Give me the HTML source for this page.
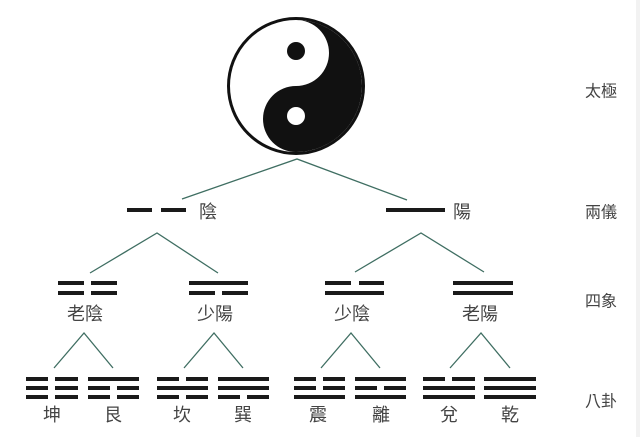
<!DOCTYPE html>
<html><head><meta charset="utf-8"><style>
html,body{margin:0;padding:0;background:#fff;}
svg{display:block;}
text{font-family:"Liberation Sans","Noto Sans CJK TC",sans-serif;fill:#444;}
</style></head><body>
<svg width="640" height="437" viewBox="0 0 640 437" xmlns="http://www.w3.org/2000/svg">
<rect x="636" y="0" width="4" height="437" fill="#f2f2f2"/>
<!-- yin yang -->
<circle cx="296" cy="86" r="67.5" fill="#fff" stroke="#111" stroke-width="3"/>
<path d="M296,20 A66,66 0 0 1 296,152 A33,33 0 0 1 296,86 A33,33 0 0 0 296,20 Z" fill="#111"/>
<circle cx="296" cy="51" r="9" fill="#111"/>
<circle cx="296" cy="116" r="9" fill="#fff"/>
<!-- connectors -->
<g stroke="#3f6e62" stroke-width="1.3" fill="none">
<polyline points="182,199 297,159 407,200"/>
<polyline points="90,273 157,233 218,273"/>
<polyline points="355,272 421,233 484,272"/>
<polyline points="54,368 84,333 113,368"/>
<polyline points="184,368 214,333 243,368"/>
<polyline points="321,368 351,333 380,368"/>
<polyline points="450,368 481,333 510,368"/>
</g>
<g fill="#1a1a1a">
<!-- level 2 -->
<rect x="127" y="208" width="25" height="4"/><rect x="161" y="208" width="25" height="4"/>
<rect x="386" y="208" width="59" height="4"/>
<!-- level 3 -->
<rect x="58" y="281" width="26" height="4"/><rect x="91" y="281" width="26" height="4"/>
<rect x="58" y="291" width="26" height="4"/><rect x="91" y="291" width="26" height="4"/>
<rect x="189" y="281" width="59" height="4"/>
<rect x="189" y="291" width="26" height="4"/><rect x="222" y="291" width="26" height="4"/>
<rect x="325" y="281" width="26" height="4"/><rect x="359" y="281" width="25" height="4"/>
<rect x="325" y="291" width="59" height="4"/>
<rect x="453" y="281" width="60" height="4"/>
<rect x="453" y="291" width="60" height="4"/>
</g>
<g fill="#1a1a1a" id="tri">
<!-- 坤 -->
<rect x="26" y="377" width="22" height="4"/><rect x="55" y="377" width="23" height="4"/>
<rect x="26" y="386" width="22" height="4"/><rect x="55" y="386" width="23" height="4"/>
<rect x="26" y="395" width="22" height="4"/><rect x="55" y="395" width="23" height="4"/>
<!-- 艮 -->
<rect x="88" y="377" width="51" height="4"/>
<rect x="88" y="386" width="22" height="4"/><rect x="117" y="386" width="22" height="4"/>
<rect x="88" y="395" width="22" height="4"/><rect x="117" y="395" width="22" height="4"/>
<!-- 坎 -->
<rect x="157" y="377" width="22" height="4"/><rect x="186" y="377" width="22" height="4"/>
<rect x="157" y="386" width="51" height="4"/>
<rect x="157" y="395" width="22" height="4"/><rect x="186" y="395" width="22" height="4"/>
<!-- 巽 -->
<rect x="218" y="377" width="51" height="4"/>
<rect x="218" y="386" width="51" height="4"/>
<rect x="218" y="395" width="22" height="4"/><rect x="247" y="395" width="22" height="4"/>
<!-- 震 -->
<rect x="294" y="377" width="22" height="4"/><rect x="323" y="377" width="22" height="4"/>
<rect x="294" y="386" width="22" height="4"/><rect x="323" y="386" width="22" height="4"/>
<rect x="294" y="395" width="51" height="4"/>
<!-- 離 -->
<rect x="355" y="377" width="51" height="4"/>
<rect x="355" y="386" width="22" height="4"/><rect x="384" y="386" width="22" height="4"/>
<rect x="355" y="395" width="51" height="4"/>
<!-- 兌 -->
<rect x="423" y="377" width="22" height="4"/><rect x="452" y="377" width="23" height="4"/>
<rect x="423" y="386" width="52" height="4"/>
<rect x="423" y="395" width="52" height="4"/>
<!-- 乾 -->
<rect x="484" y="377" width="52" height="4"/>
<rect x="484" y="386" width="52" height="4"/>
<rect x="484" y="395" width="52" height="4"/>
</g>
<g font-size="18" text-anchor="middle" dominant-baseline="central">
<text x="208" y="212">陰</text>
<text x="462" y="212">陽</text>
<text x="85" y="314">老陰</text>
<text x="215" y="314">少陽</text>
<text x="352" y="314">少陰</text>
<text x="480" y="314">老陽</text>
<text x="52" y="415">坤</text>
<text x="113" y="415">艮</text>
<text x="182" y="415">坎</text>
<text x="243" y="415">巽</text>
<text x="318" y="415">震</text>
<text x="381" y="415">離</text>
<text x="449" y="415">兌</text>
<text x="510" y="415">乾</text>
</g>
<g font-size="16" text-anchor="middle" dominant-baseline="central">
<text x="601" y="92">太極</text>
<text x="601" y="213">兩儀</text>
<text x="601" y="302">四象</text>
<text x="601" y="402">八卦</text>
</g>
</svg>
</body></html>
